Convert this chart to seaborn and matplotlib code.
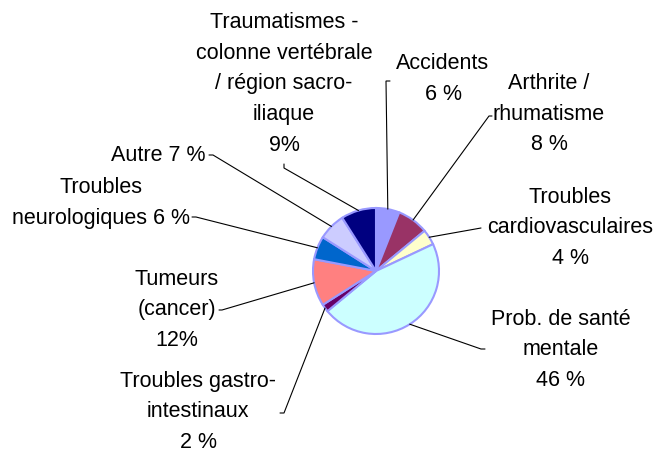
import numpy as np
import matplotlib
matplotlib.use("Agg")
import matplotlib.pyplot as plt
import seaborn as sns

# data, clockwise from 12 o'clock
categories = ["Accidents", "Arthrite / rhumatisme", "Troubles cardiovasculaires",
              "Prob. de santé mentale", "Troubles gastro-intestinaux",
              "Tumeurs (cancer)", "Troubles neurologiques", "Autre",
              "Traumatismes - colonne vertébrale / région sacro-iliaque"]
values = [6, 8, 4, 46, 2, 12, 6, 7, 9]
label_texts = ["Accidents\n6 %", "Arthrite /\nrhumatisme\n8 %",
               "Troubles\ncardiovasculaires\n4 %", "Prob. de santé\nmentale\n46 %",
               "Troubles gastro-\nintestinaux\n2 %", "Tumeurs\n(cancer)\n12%",
               "Troubles\nneurologiques 6 %", "Autre 7 %",
               "Traumatismes -\ncolonne vertébrale\n/ région sacro-\niliaque\n9%"]
colors = ["#9999FF", "#993366", "#FFFFCC", "#CCFFFF", "#660066",
          "#FF8080", "#0066CC", "#CCCCFF", "#000080"]

# layout (pixel coords, y down)
center = (376, 272)
radius = 63
text_pos = [(443, 79), (549, 114), (570, 228), (561, 350), (198, 412),
            (177, 310), (101, 203), (158, 156), (284, 84)]
# leader line: elbow point, then tick end
elbows = [(386, 82), (489, 117), (481, 229), (481, 350), (284, 414),
          (222, 311), (196, 218), (213, 156), (284, 169)]
ticks = [(390, 82), (492, 117), (481, 229), (485, 350), (280, 414),
         (219, 311), (192, 218), (209, 156), (284, 165)]

sns.set_theme(style="white")
plt.rcParams["font.family"] = ["Liberation Sans", "DejaVu Sans"]

fig = plt.figure(figsize=(6.58, 4.52), dpi=100)
ax = fig.add_axes([0, 0, 1, 1])

# y axis inverted -> counterclock in data = clockwise on screen
wedges, _ = ax.pie(values, colors=colors, center=center, radius=radius,
                   startangle=-90, counterclock=True,
                   wedgeprops=dict(edgecolor="#9999FF", linewidth=1.5))
ax.set_xlim(0, 658)
ax.set_ylim(452, 0)
ax.set_aspect("equal")
ax.axis("off")

for w, txt, tp, el, tk in zip(wedges, label_texts, text_pos, elbows, ticks):
    mid = np.deg2rad((w.theta1 + w.theta2) / 2)
    sx = center[0] + radius * np.cos(mid)
    sy = center[1] + radius * np.sin(mid)
    ax.plot([sx, el[0], tk[0]], [sy, el[1], tk[1]], color="black", lw=0.8,
            solid_joinstyle="miter")
    ax.text(tp[0], tp[1], txt, ha="center", va="center", fontsize=15.5,
            linespacing=1.6, color="black")

fig.savefig("out.png", dpi=100)
